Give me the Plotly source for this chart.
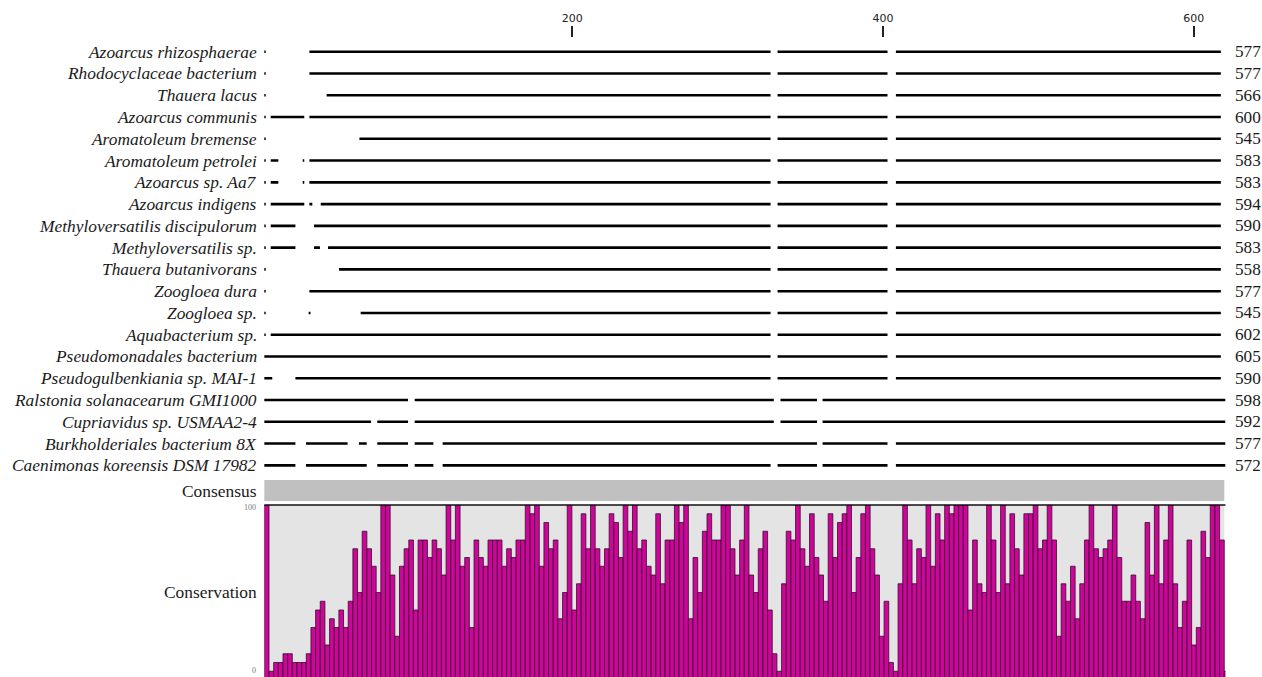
import numpy as np
import plotly.graph_objects as go

W, H = 1262, 677

# ---- alignment rows -------------------------------------------------------
species = [
    "Azoarcus rhizosphaerae",
    "Rhodocyclaceae bacterium",
    "Thauera lacus",
    "Azoarcus communis",
    "Aromatoleum bremense",
    "Aromatoleum petrolei",
    "Azoarcus sp. Aa7",
    "Azoarcus indigens",
    "Methyloversatilis discipulorum",
    "Methyloversatilis sp.",
    "Thauera butanivorans",
    "Zoogloea dura",
    "Zoogloea sp.",
    "Aquabacterium sp.",
    "Pseudomonadales bacterium",
    "Pseudogulbenkiania sp. MAI-1",
    "Ralstonia solanacearum GMI1000",
    "Cupriavidus sp. USMAA2-4",
    "Burkholderiales bacterium 8X",
    "Caenimonas koreensis DSM 17982",
]

lengths = [577, 577, 566, 600, 545, 583, 583, 594, 590, 583,
           558, 577, 545, 602, 605, 590, 598, 592, 577, 572]

# aligned (non-gap) stretches of each sequence, in alignment columns
segments = [
    [(1.4, 2.6), (30.7, 327.6), (332.1, 402.9), (408.3, 617.5)],
    [(1.4, 2.6), (30.7, 327.6), (332.1, 402.9), (408.3, 617.5)],
    [(1.4, 2.6), (41.8, 327.6), (332.1, 402.9), (408.3, 617.5)],
    [(1.4, 2.6), (5.8, 27.4), (30.7, 327.6), (332.1, 402.9), (408.3, 617.5)],
    [(1.4, 2.6), (62.9, 327.6), (332.1, 402.9), (408.3, 617.5)],
    [(1.4, 2.6), (5.8, 10.7), (26.4, 27.4), (30.7, 327.6), (332.1, 402.9), (408.3, 617.5)],
    [(1.4, 2.6), (5.8, 10.7), (26.4, 27.4), (30.7, 327.6), (332.1, 402.9), (408.3, 617.5)],
    [(1.4, 2.6), (5.8, 27.4), (30.7, 32.6), (38.0, 327.6), (332.1, 402.9), (408.3, 617.5)],
    [(1.4, 2.6), (5.8, 21.7), (33.7, 327.6), (332.1, 402.9), (408.3, 617.5)],
    [(1.4, 2.6), (5.8, 21.7), (33.7, 37.5), (42.7, 327.6), (332.1, 402.9), (408.3, 617.5)],
    [(1.4, 2.6), (49.8, 327.6), (332.1, 402.9), (408.3, 617.5)],
    [(1.4, 2.6), (30.7, 327.6), (332.1, 402.9), (408.3, 617.5)],
    [(1.4, 2.6), (30.2, 31.4), (63.7, 327.6), (332.1, 402.9), (408.3, 617.5)],
    [(1.4, 2.6), (5.8, 327.6), (332.1, 402.9), (408.3, 617.5)],
    [(1.5, 327.6), (332.1, 402.9), (408.3, 617.5)],
    [(1.5, 6.8), (21.7, 327.6), (332.1, 402.9), (408.3, 617.5)],
    [(1.5, 94.2), (98.5, 329.7), (334.0, 357.5), (361.1, 620.5)],
    [(1.5, 70.4), (74.4, 94.2), (98.5, 329.7), (334.0, 357.5), (361.1, 620.5)],
    [(1.5, 21.7), (28.5, 55.3), (62.6, 67.6), (74.4, 94.2), (98.5, 110.5),
     (116.5, 357.5), (361.1, 402.9), (408.3, 620.5)],
    [(1.5, 21.7), (28.5, 67.6), (74.4, 94.2), (98.5, 110.5), (116.5, 327.6),
     (332.1, 357.5), (361.1, 402.9), (408.3, 620.5)],
]

# ---- conservation (percent identity, one value per 3-column window) --------
conservation = [
    100, 5, 10, 10, 15, 15, 10, 10, 10, 15,
    30, 40, 45, 20, 35, 30, 40, 30, 45, 75,
    50, 85, 75, 65, 50, 100, 100, 60, 25, 65,
    75, 80, 40, 80, 80, 70, 80, 75, 60, 100,
    80, 100, 65, 70, 30, 80, 70, 65, 80, 80,
    80, 65, 75, 70, 80, 80, 100, 95, 100, 65,
    90, 75, 80, 35, 50, 100, 40, 55, 95, 75,
    100, 75, 65, 75, 95, 90, 70, 100, 85, 100,
    75, 80, 65, 60, 95, 55, 80, 80, 100, 90,
    100, 35, 70, 50, 85, 95, 80, 80, 100, 100,
    75, 60, 80, 100, 60, 50, 75, 85, 40, 15,
    5, 55, 85, 80, 100, 75, 65, 95, 70, 60,
    45, 95, 70, 90, 95, 100, 50, 70, 95, 100,
    75, 60, 25, 45, 10, 5, 55, 100, 80, 55,
    75, 70, 100, 65, 95, 80, 100, 95, 100, 100,
    100, 40, 80, 55, 50, 100, 80, 50, 100, 55,
    95, 75, 60, 95, 95, 100, 75, 80, 100, 80,
    25, 55, 45, 65, 35, 55, 80, 100, 75, 70,
    75, 80, 100, 70, 45, 45, 60, 45, 35, 90,
    60, 100, 55, 80, 100, 55, 30, 45, 80, 20,
    30, 85, 70, 100, 100, 80, 5,
]
window = 3          # alignment columns per conservation bar
first_col = 1.7     # left edge of the first window

tick_vals = [200, 400, 600]

# ---- figure -----------------------------------------------------------------
fig = go.Figure()

xs, ys = [], []
for row, segs in enumerate(segments):
    for start, end in segs:
        xs += [start, end, None]
        ys += [row, row, None]

fig.add_trace(go.Scatter(
    x=xs, y=ys, mode="lines",
    line=dict(color="#000000", width=2.6),
    xaxis="x", yaxis="y", hoverinfo="skip", showlegend=False,
))

centers = first_col + window * (np.arange(len(conservation)) + 0.5)
fig.add_trace(go.Bar(
    x=centers, y=conservation, width=window,
    marker=dict(color="#CC0699", line=dict(color="#3a0a2e", width=0.8)),
    xaxis="x2", yaxis="y2", hoverinfo="skip", showlegend=False,
))


def px(v):
    return v / W


def py(v):
    return 1 - v / H


x_dom = [px(264.3), px(1225.5)]
x_rng = [1.67, 620.5]

serif = "Liberation Serif, Times New Roman, serif"

fig.update_layout(
    width=W, height=H,
    margin=dict(l=0, r=0, t=0, b=0),
    paper_bgcolor="white", plot_bgcolor="white",
    showlegend=False,
    xaxis=dict(
        domain=x_dom, range=x_rng, anchor="y", side="top",
        tickvals=tick_vals, ticktext=[str(v) for v in tick_vals],
        ticks="outside", ticklen=11, tickwidth=1.5, tickcolor="#222222",
        tickfont=dict(family="DejaVu Sans, Verdana, sans-serif", size=11, color="#222222"),
        showgrid=False, zeroline=False, showline=False,
    ),
    yaxis=dict(
        domain=[py(476), py(38)], range=[19.49, -0.63],
        visible=False, showgrid=False, zeroline=False,
    ),
    xaxis2=dict(
        domain=x_dom, range=x_rng, anchor="y2",
        visible=False, showgrid=False, zeroline=False,
    ),
    yaxis2=dict(
        domain=[0, py(505)], range=[1.71, 100],
        visible=False, showgrid=False, zeroline=False,
    ),
)

edge = (1224.3 - 264.3) / (1225.5 - 264.3)
shapes = [
    # consensus strip
    dict(type="rect", xref="x domain", yref="paper",
         x0=0, x1=edge, y0=py(501), y1=py(480),
         fillcolor="#C0C0C0", line=dict(width=0), layer="below"),
    # conservation background
    dict(type="rect", xref="x2 domain", yref="y2 domain",
         x0=0, x1=edge, y0=0, y1=1,
         fillcolor="#E4E4E4", line=dict(width=0), layer="below"),
    # top rule of the conservation panel
    dict(type="line", xref="x2 domain", yref="y2 domain",
         x0=0, x1=1, y0=1, y1=1,
         line=dict(color="#111111", width=1.5), layer="above"),
]

annotations = []
for row, (name, n) in enumerate(zip(species, lengths)):
    annotations.append(dict(
        text=name, xref="paper", yref="y", x=px(258.5), y=row,
        xanchor="right", yanchor="middle", showarrow=False,
        font=dict(family=serif, size=17.4, color="#1a1a1a", style="italic"),
    ))
    annotations.append(dict(
        text=str(n), xref="paper", yref="y", x=px(1233), y=row,
        xanchor="left", yanchor="middle", showarrow=False,
        font=dict(family=serif, size=17.2, color="#1a1a1a"),
    ))

annotations += [
    dict(text="Consensus", xref="paper", yref="paper", x=px(258.5), y=py(491),
         xanchor="right", yanchor="middle", showarrow=False,
         font=dict(family=serif, size=17.4, color="#1a1a1a")),
    dict(text="Conservation", xref="paper", yref="paper", x=px(258.5), y=py(592),
         xanchor="right", yanchor="middle", showarrow=False,
         font=dict(family=serif, size=17.4, color="#1a1a1a")),
    dict(text="100", xref="paper", yref="paper", x=px(258), y=py(507),
         xanchor="right", yanchor="middle", showarrow=False,
         font=dict(family=serif, size=8, color="#777777")),
    dict(text="0", xref="paper", yref="paper", x=px(258), y=py(670),
         xanchor="right", yanchor="middle", showarrow=False,
         font=dict(family=serif, size=8, color="#777777")),
]

fig.update_layout(shapes=shapes, annotations=annotations)

fig.write_html("out.html", config=dict(displayModeBar=False))
